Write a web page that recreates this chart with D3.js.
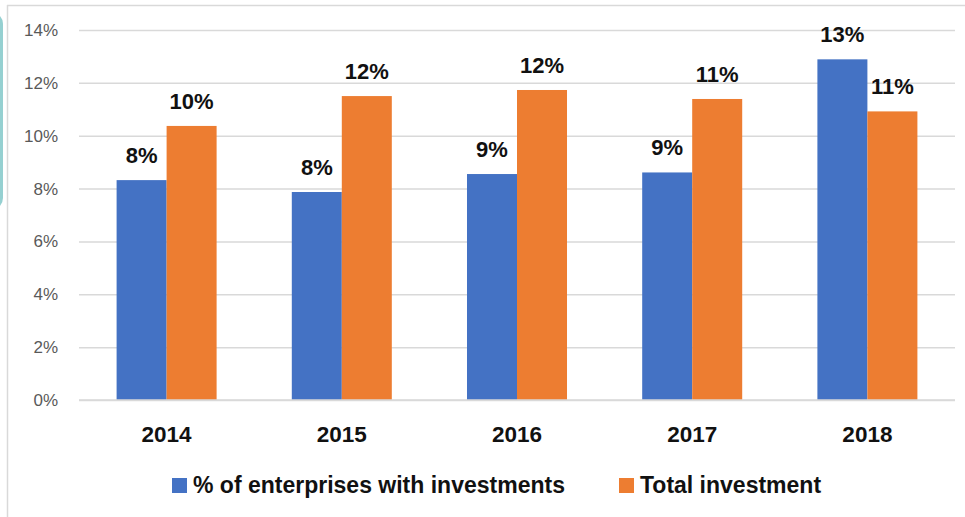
<!DOCTYPE html>
<html>
<head>
<meta charset="utf-8">
<script src="https://cdn.jsdelivr.net/npm/d3@7"></script>
<style>
html,body{margin:0;padding:0;background:#fff;}
svg{display:block;}
</style>
</head>
<body>
<svg id="chart" width="965" height="517"></svg>
<script>
const years = ["2014", "2015", "2016", "2017", "2018"];
const seriesNames = ["% of enterprises with investments", "Total investment"];
const enterprisesPct = [8.32, 7.87, 8.55, 8.61, 12.89];
const totalInvestment = [10.37, 11.5, 11.73, 11.39, 10.92];
const pctLabels = ["8%", "8%", "9%", "9%", "13%"];
const totalLabels = ["10%", "12%", "12%", "11%", "11%"];
const yTicks = [0, 2, 4, 6, 8, 10, 12, 14];
const colors = ["#4472C4", "#ED7D31"];

const svg = d3.select("#chart");
const W = 965, H = 517;
const m = {left: 79, right: 955, top: 30, bottom: 400};

// decoration: frame and teal tab
svg.append("rect").attr("x", -30).attr("y", 12).attr("width", 33).attr("height", 198)
  .attr("rx", 12).attr("fill", "#95d0d1");
svg.append("line").attr("x1", 7).attr("x2", W).attr("y1", 5.5).attr("y2", 5.5)
  .attr("stroke", "#d9d9d9").attr("stroke-width", 1.5);
svg.append("line").attr("x1", 7.5).attr("x2", 7.5).attr("y1", 5).attr("y2", H)
  .attr("stroke", "#d9d9d9").attr("stroke-width", 1.5);

const y = d3.scaleLinear().domain([0, 14]).range([m.bottom, m.top]);
const x0 = d3.scaleBand().domain(years).range([m.left, m.right])
  .paddingInner(0.4292).paddingOuter(0.2146);
const x1 = d3.scaleBand().domain(seriesNames).range([0, x0.bandwidth()]);

// gridlines
const yAxis = d3.axisLeft(y).tickValues(yTicks).tickSize(-(m.right - m.left))
  .tickFormat(d => d + "%").tickPadding(21);
const gy = svg.append("g").attr("transform", `translate(${m.left},0)`).call(yAxis);
gy.select(".domain").remove();
gy.selectAll(".tick line").attr("stroke", "#d9d9d9").attr("stroke-width", 1.5);
gy.selectAll(".tick text").attr("fill", "#595959")
  .style("font-family", "'Liberation Sans', Arial, sans-serif").style("font-size", "17px");

// x axis
const xAxis = d3.axisBottom(x0).tickSize(0).tickPadding(26);
const gx = svg.append("g").attr("transform", `translate(0,${m.bottom})`).call(xAxis);
gx.select(".domain").remove();
gx.selectAll(".tick text").attr("fill", "#111")
  .style("font-family", "'Liberation Sans', Arial, sans-serif").style("font-size", "22.5px")
  .style("font-weight", "bold");

const data = years.map((yr, i) => ({
  year: yr,
  vals: [
    {s: seriesNames[0], v: enterprisesPct[i], lab: pctLabels[i], c: colors[0]},
    {s: seriesNames[1], v: totalInvestment[i], lab: totalLabels[i], c: colors[1]}
  ]
}));

const groups = svg.append("g").selectAll("g").data(data).join("g")
  .attr("transform", d => `translate(${x0(d.year)},0)`);

groups.selectAll("rect").data(d => d.vals).join("rect")
  .attr("x", d => x1(d.s))
  .attr("y", d => y(d.v))
  .attr("width", x1.bandwidth())
  .attr("height", d => y(0) - y(d.v))
  .attr("fill", d => d.c);

groups.selectAll("text").data(d => d.vals).join("text")
  .attr("x", d => x1(d.s) + x1.bandwidth() / 2)
  .attr("y", d => y(d.v) - 17)
  .attr("text-anchor", "middle")
  .attr("fill", "#111")
  .style("font-family", "'Liberation Sans', Arial, sans-serif")
  .style("font-size", "22px").style("font-weight", "bold")
  .text(d => d.lab);

// bottom axis line
svg.append("line").attr("x1", m.left).attr("x2", m.right).attr("y1", y(0)).attr("y2", y(0))
  .attr("stroke", "#d9d9d9").attr("stroke-width", 1.5);

// legend
const legendX = [172, 619];
const lg = svg.append("g").selectAll("g").data(seriesNames).join("g")
  .attr("transform", (d, i) => `translate(${legendX[i]},478)`);
lg.append("rect").attr("width", 15).attr("height", 15).attr("fill", (d, i) => colors[i]);
lg.append("text").attr("x", 21).attr("y", 15)
  .attr("fill", "#111")
  .style("font-family", "'Liberation Sans', Arial, sans-serif")
  .style("font-size", "23px").style("font-weight", "bold")
  .text(d => d);
</script>
</body>
</html>
